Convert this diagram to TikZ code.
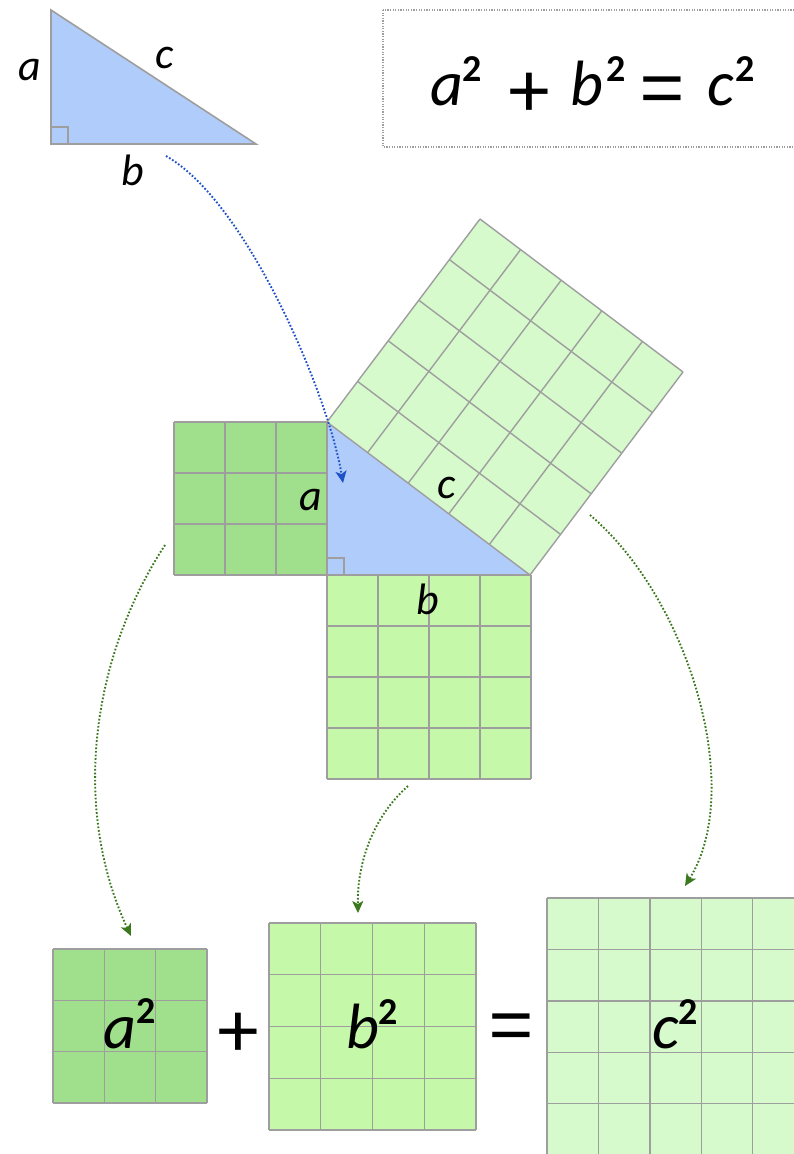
\documentclass[tikz,border=0pt]{standalone}
\usepackage{fontspec}
\setmainfont{Carlito}[BoldFont={Carlito Bold},ItalicFont={Carlito Italic},BoldItalicFont={Carlito Bold Italic}]
\newfontfamily\opfont{Fira Sans}[UprightFont={* Light}]
\usetikzlibrary{arrows.meta}
\definecolor{agreen}{RGB}{160,224,140}
\definecolor{bgreen}{RGB}{198,248,170}
\definecolor{cgreen}{RGB}{214,250,204}
\definecolor{triblue}{RGB}{176,204,250}
\definecolor{gridgray}{RGB}{158,158,158}
\definecolor{arrblue}{RGB}{30,80,200}
\definecolor{arrgreen}{RGB}{60,120,30}
\newcommand\sqgrid[5]{%
  \fill[#5] (#1,#2) rectangle ++(#4,#4);
  \foreach \k in {0,...,#3}{%
    \draw[gridln] ({#1+\k*#4/#3},#2) -- ++(0,#4);
    \draw[gridln] (#1,{#2+\k*#4/#3}) -- ++(#4,0);
  }%
}
\tikzset{
  gridln/.style={draw=gridgray,line width=1.4pt},
  lbl/.style={inner sep=0pt,anchor=base,font=\fontsize{44}{44}\selectfont\itshape},
  bigl/.style={inner sep=0pt,anchor=base,font=\fontsize{64}{64}\selectfont\itshape},
  bigop/.style={inner sep=0pt,anchor=base,font=\fontsize{105}{105}\selectfont\opfont},
  supr/.style={inner sep=0pt,anchor=base,font=\fontsize{38}{38}\selectfont\bfseries},
  bluearr/.style={draw=arrblue,line width=1.9pt,dash pattern=on 1.7pt off 1.9pt,
    -{Stealth[length=12pt,width=11pt,inset=3pt,fill=arrblue]}},
  greenarr/.style={draw=arrgreen,line width=1.9pt,dash pattern=on 1.7pt off 1.9pt,
    -{Stealth[length=12pt,width=11pt,inset=3pt,fill=arrgreen]}},
  dotbox/.style={draw=gridgray,line width=1.3pt,dash pattern=on 1.2pt off 1.4pt},
}
\begin{document}
\begin{tikzpicture}[x=1pt,y=-1pt]
\useasboundingbox (0,0) rectangle (794,1154);
\clip (0,0) rectangle (794,1154);

% ---- top triangle ----
\filldraw[fill=triblue,draw=gridgray,line width=1.6pt] (51,10) -- (51,144) -- (256,144) -- cycle;
\draw[gridgray,line width=1.8pt] (51,127) -- (68,127) -- (68,144);
\node[lbl] (ta) at (30,80) {a};
\node[lbl] (tc) at (165,68) {c};
\node[lbl] (tb) at (133,185) {b};

% ---- equation box ----
\draw[dotbox] (383,10) rectangle (800,147);
\node[bigl] (e1) at (447,105) {a};
\node[supr] (e2) at (472,81) {2};
\node[bigop] (e3) at (529,126) {+};
\node[bigl] (e4) at (587,105) {b};
\node[supr] (e5) at (616,81) {2};
\node[bigop] (e6) at (662,123) {=};
\node[bigl] (e7) at (721,105) {c};
\node[supr] (e8) at (745,81) {2};

% ---- main figure ----
\fill[triblue] (327,422) -- (327,575) -- (530,575) -- cycle;
\sqgrid{174}{422}{3}{153}{agreen}
\sqgrid{327}{575}{4}{204}{bgreen}
\begin{scope}[shift={(327,422)},x={(40.6pt,-30.6pt)},y={(30.6pt,40.6pt)}]
  \fill[cgreen] (0,0) -- (5,0) -- (5,5) -- (0,5) -- cycle;
  \foreach \k in {0,...,5}{%
    \draw[gridln] (\k,0) -- (\k,5);
    \draw[gridln] (0,\k) -- (5,\k);
  }
\end{scope}
\draw[gridgray,line width=1.8pt] (327,558) -- (344,558) -- (344,575);
\node[lbl] (ma) at (311,510) {a};
\node[lbl] (mc) at (447,498) {c};
\node[lbl] (mb) at (428,614) {b};

% ---- bottom row ----
\sqgrid{53}{949}{3}{154}{agreen}
\sqgrid{269}{923}{4}{207}{bgreen}
\sqgrid{547}{898}{5}{257}{cgreen}
\node[bigl] (ba) at (120,1048) {a};
\node[supr] (ba2) at (146,1023) {2};
\node[bigop] (bp) at (238,1066) {+};
\node[bigl] (bb) at (363,1048) {b};
\node[supr] (bb2) at (388,1024) {2};
\node[bigop] (be) at (511,1060) {=};
\node[bigl] (bc) at (666,1048) {c};
\node[supr] (bc2) at (688,1024) {2};

% ---- arrows ----
\coordinate (s1) at (166,156);
\coordinate (t1) at (343,483);
\coordinate (s2) at (165,545);
\coordinate (t2) at (131,936);
\coordinate (s3) at (408,786);
\coordinate (t3) at (358,913);
\coordinate (s4) at (590,515);
\coordinate (t4) at (685,886);
\draw[bluearr] (s1) .. controls (246,201) and (328,393) .. (t1);
\draw[greenarr] (s2) .. controls (90,660) and (72,810) .. (t2);
\draw[greenarr] (s3) .. controls (375,815) and (357,860) .. (t3);
\draw[greenarr] (s4) .. controls (690,600) and (745,790) .. (t4);
\end{tikzpicture}
\end{document}
